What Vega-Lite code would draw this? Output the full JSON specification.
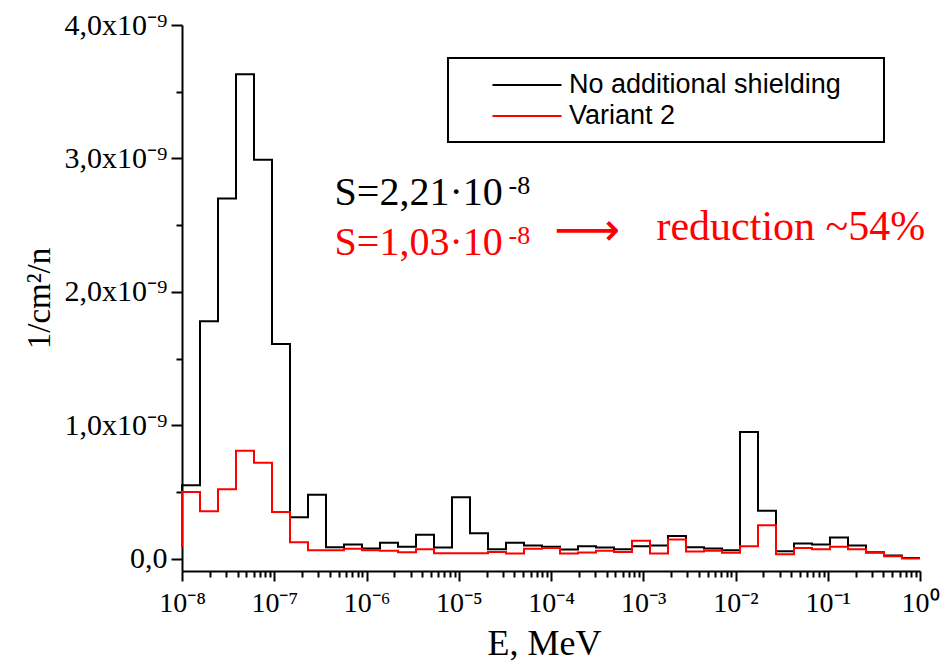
{
  "$schema": "https://vega.github.io/schema/vega-lite/v6.json",
  "width": 738,
  "height": 546,
  "autosize": {"type": "none"},
  "padding": {"left": 182, "top": 25, "right": 29, "bottom": 92},
  "background": "white",
  "config": {"view": {"stroke": null}},
  "layer": [
    {
      "data": {"values": [
        {"E": 1e-8, "No additional shielding": 9e-11, "Variant 2": 9e-11},
        {"E": 1.5672e-8, "No additional shielding": 5.5e-10, "Variant 2": 5.0e-10},
        {"E": 2.4561e-8, "No additional shielding": 1.78e-9, "Variant 2": 3.56e-10},
        {"E": 3.849e-8, "No additional shielding": 2.70e-9, "Variant 2": 5.2e-10},
        {"E": 6.0327e-8, "No additional shielding": 3.63e-9, "Variant 2": 8.1e-10},
        {"E": 9.454e-8, "No additional shielding": 2.99e-9, "Variant 2": 7.2e-10},
        {"E": 1.4816e-7, "No additional shielding": 1.61e-9, "Variant 2": 3.5e-10},
        {"E": 2.3219e-7, "No additional shielding": 3.1e-10, "Variant 2": 1.24e-10},
        {"E": 3.639e-7, "No additional shielding": 4.8e-10, "Variant 2": 6.4e-11},
        {"E": 5.7029e-7, "No additional shielding": 8.6e-11, "Variant 2": 6.4e-11},
        {"E": 8.9376e-7, "No additional shielding": 1.06e-10, "Variant 2": 7.4e-11},
        {"E": 1.4007e-6, "No additional shielding": 7.7e-11, "Variant 2": 6.4e-11},
        {"E": 2.1952e-6, "No additional shielding": 1.2e-10, "Variant 2": 5.9e-11},
        {"E": 3.4402e-6, "No additional shielding": 8.9e-11, "Variant 2": 4.9e-11},
        {"E": 5.3916e-6, "No additional shielding": 1.8e-10, "Variant 2": 7.1e-11},
        {"E": 8.4497e-6, "No additional shielding": 8.4e-11, "Variant 2": 4.1e-11},
        {"E": 1.3242e-5, "No additional shielding": 4.6e-10, "Variant 2": 4.1e-11},
        {"E": 2.0753e-5, "No additional shielding": 1.9e-10, "Variant 2": 4.1e-11},
        {"E": 3.2524e-5, "No additional shielding": 7.1e-11, "Variant 2": 5.1e-11},
        {"E": 5.0971e-5, "No additional shielding": 1.2e-10, "Variant 2": 3.9e-11},
        {"E": 7.9881e-5, "No additional shielding": 1.0e-10, "Variant 2": 7.4e-11},
        {"E": 1.2519e-4, "No additional shielding": 8.9e-11, "Variant 2": 8.1e-11},
        {"E": 1.9619e-4, "No additional shielding": 6.9e-11, "Variant 2": 3.9e-11},
        {"E": 3.0747e-4, "No additional shielding": 9.4e-11, "Variant 2": 4.6e-11},
        {"E": 4.8188e-4, "No additional shielding": 8.4e-11, "Variant 2": 5.9e-11},
        {"E": 7.5517e-4, "No additional shielding": 7.1e-11, "Variant 2": 5.1e-11},
        {"E": 1.1835e-3, "No additional shielding": 9.4e-11, "Variant 2": 1.34e-10},
        {"E": 1.8548e-3, "No additional shielding": 1.0e-10, "Variant 2": 3.9e-11},
        {"E": 2.9067e-3, "No additional shielding": 1.7e-10, "Variant 2": 1.44e-10},
        {"E": 4.5557e-3, "No additional shielding": 8.6e-11, "Variant 2": 5.4e-11},
        {"E": 7.1392e-3, "No additional shielding": 7.7e-11, "Variant 2": 5.9e-11},
        {"E": 1.1189e-2, "No additional shielding": 6.4e-11, "Variant 2": 4.4e-11},
        {"E": 1.7535e-2, "No additional shielding": 9.5e-10, "Variant 2": 9.4e-11},
        {"E": 2.748e-2, "No additional shielding": 3.6e-10, "Variant 2": 2.51e-10},
        {"E": 4.3069e-2, "No additional shielding": 5.6e-11, "Variant 2": 3.4e-11},
        {"E": 6.7495e-2, "No additional shielding": 1.14e-10, "Variant 2": 8.1e-11},
        {"E": 0.10578, "No additional shielding": 1.06e-10, "Variant 2": 7.1e-11},
        {"E": 0.16577, "No additional shielding": 1.59e-10, "Variant 2": 8.9e-11},
        {"E": 0.2598, "No additional shielding": 9.9e-11, "Variant 2": 7.1e-11},
        {"E": 0.40716, "No additional shielding": 4.9e-11, "Variant 2": 4.4e-11},
        {"E": 0.63812, "No additional shielding": 2.4e-11, "Variant 2": 1.9e-11},
        {"E": 1, "No additional shielding": 6e-12, "Variant 2": 2e-12}
      ]},
      "transform": [{"fold": ["No additional shielding", "Variant 2"], "as": ["series", "flux"]}],
      "mark": {"type": "line", "interpolate": "step-before", "strokeWidth": 2},
      "encoding": {
        "x": {
          "field": "E", "type": "quantitative",
          "scale": {"type": "log", "domain": [1e-8, 1], "nice": false},
          "axis": {
            "title": "E, MeV",
            "values": [1e-8,2e-8,3e-8,4e-8,5e-8,6e-8,7e-8,8e-8,9e-8,1e-7,2e-7,3e-7,4e-7,5e-7,6e-7,7e-7,8e-7,9e-7,1e-6,2e-6,3e-6,4e-6,5e-6,6e-6,7e-6,8e-6,9e-6,1e-5,2e-5,3e-5,4e-5,5e-5,6e-5,7e-5,8e-5,9e-5,1e-4,2e-4,3e-4,4e-4,5e-4,6e-4,7e-4,8e-4,9e-4,0.001,0.002,0.003,0.004,0.005,0.006,0.007,0.008,0.009,0.01,0.02,0.03,0.04,0.05,0.06,0.07,0.08,0.09,0.1,0.2,0.3,0.4,0.5,0.6,0.7,0.8,0.9,1],
            "labelExpr": "abs(log(datum.value)/LN10 - round(log(datum.value)/LN10)) < 0.001 ? '10' + (round(log(datum.value)/LN10) < 0 ? '⁻' : '') + ['⁰','¹','²','³','⁴','⁵','⁶','⁷','⁸','⁹'][abs(round(log(datum.value)/LN10))] : ''",
            "labelOverlap": false,
            "labelFlush": false,
            "labelFont": "Liberation Serif",
            "labelFontSize": 28,
            "labelColor": "black",
            "labelPadding": 8,
            "tickColor": "black",
            "tickWidth": 2,
            "tickSize": {"condition": {"test": "abs(log(datum.value)/LN10 - round(log(datum.value)/LN10)) < 0.001", "value": 10}, "value": 6},
            "domainColor": "black",
            "domainWidth": 2,
            "grid": false,
            "titleFont": "Liberation Serif",
            "titleFontSize": 36,
            "titleFontWeight": "normal",
            "titleColor": "black",
            "titlePadding": 9,
            "titleX": 362
          }
        },
        "y": {
          "field": "flux", "type": "quantitative",
          "scale": {"domain": [-9.2e-11, 4e-9], "nice": false, "zero": false},
          "axis": {
            "title": "1/cm²/n",
            "values": [0, 5e-10, 1e-9, 1.5e-9, 2e-9, 2.5e-9, 3e-9, 3.5e-9, 4e-9],
            "labelExpr": "datum.value == 0 ? '0,0' : (abs(datum.value*1e9 - round(datum.value*1e9)) < 0.01 ? round(datum.value*1e9) + ',0x10⁻⁹' : '')",
            "labelOverlap": false,
            "labelFlush": false,
            "labelFont": "Liberation Serif",
            "labelFontSize": 30,
            "labelColor": "black",
            "labelPadding": 4,
            "tickColor": "black",
            "tickWidth": 2,
            "tickSize": {"condition": {"test": "abs(datum.value*1e9 - round(datum.value*1e9)) < 0.01", "value": 11}, "value": 6},
            "domainColor": "black",
            "domainWidth": 2,
            "grid": false,
            "titleFont": "Liberation Serif",
            "titleFontSize": 33,
            "titleFontWeight": "normal",
            "titleColor": "black",
            "titlePadding": 8
          }
        },
        "color": {
          "field": "series", "type": "nominal",
          "scale": {"domain": ["No additional shielding", "Variant 2"], "range": ["black", "#ff0000"]},
          "legend": {
            "orient": "none",
            "legendX": 266,
            "legendY": 33,
            "title": null,
            "strokeColor": "black",
            "padding": 13,
            "symbolType": "M-2.654,0H2.654M26.1,0",
            "symbolSize": 676,
            "symbolStrokeWidth": 2,
            "symbolOffset": 52,
            "labelFont": "Liberation Sans",
            "labelFontSize": 27,
            "labelColor": "black",
            "labelOffset": 28,
            "labelLimit": 0,
            "rowPadding": 4,
            "encode": {"legend": {"update": {"strokeWidth": {"value": 2}}}}
          }
        }
      }
    },
    {
      "data": {"values": [{}]},
      "mark": {"type": "text", "text": "S=2,21·10", "font": "Liberation Serif", "fontSize": 40, "color": "black", "align": "left", "baseline": "alphabetic"},
      "encoding": {"x": {"datum": 4.51e-7, "type": "quantitative"}, "y": {"datum": 2.65e-9, "type": "quantitative"}}
    },
    {
      "data": {"values": [{}]},
      "mark": {"type": "text", "text": "-8", "font": "Liberation Serif", "fontSize": 26, "color": "black", "align": "left", "baseline": "alphabetic"},
      "encoding": {"x": {"datum": 3.463e-5, "type": "quantitative"}, "y": {"datum": 2.73e-9, "type": "quantitative"}}
    },
    {
      "data": {"values": [{}]},
      "mark": {"type": "text", "text": "S=1,03·10", "font": "Liberation Serif", "fontSize": 40, "color": "#ff0000", "align": "left", "baseline": "alphabetic"},
      "encoding": {"x": {"datum": 4.51e-7, "type": "quantitative"}, "y": {"datum": 2.275e-9, "type": "quantitative"}}
    },
    {
      "data": {"values": [{}]},
      "mark": {"type": "text", "text": "-8", "font": "Liberation Serif", "fontSize": 26, "color": "#ff0000", "align": "left", "baseline": "alphabetic"},
      "encoding": {"x": {"datum": 3.463e-5, "type": "quantitative"}, "y": {"datum": 2.358e-9, "type": "quantitative"}}
    },
    {
      "data": {"values": [{}]},
      "mark": {"type": "text", "text": "⟶", "font": "DejaVu Sans", "fontSize": 46, "color": "#ff0000", "align": "center", "baseline": "middle"},
      "encoding": {"x": {"datum": 2.455e-4, "type": "quantitative"}, "y": {"datum": 2.455e-9, "type": "quantitative"}}
    },
    {
      "data": {"values": [{}]},
      "mark": {"type": "text", "text": "reduction ~54%", "font": "Liberation Serif", "fontSize": 42, "color": "#ff0000", "align": "left", "baseline": "alphabetic"},
      "encoding": {"x": {"datum": 1.39e-3, "type": "quantitative"}, "y": {"datum": 2.388e-9, "type": "quantitative"}}
    }
  ]
}
